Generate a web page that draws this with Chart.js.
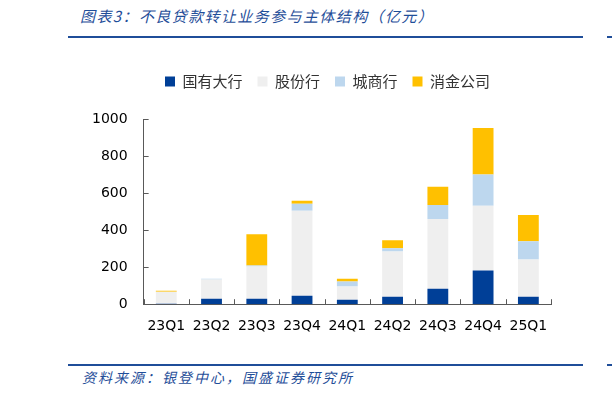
<!DOCTYPE html>
<html>
<head>
<meta charset="utf-8">
<script src="https://cdn.jsdelivr.net/npm/chart.js@4.4.1/dist/chart.umd.min.js"></script>
<style>
  body { margin: 0; width: 612px; height: 397px; background: #fff; position: relative; overflow: hidden; font-family: "Noto Sans CJK SC", sans-serif; }
  .title { position: absolute; left: 80px; top: 5px; font-size: 15px; letter-spacing: 1.4px; font-style: italic; color: #1f4e99; }
  .rule { position: absolute; height: 2px; background: #1f4e99; }
  .note { position: absolute; left: 82px; top: 367px; font-size: 14px; letter-spacing: 2px; font-style: italic; color: #1f4e99; }
  #wrap { position: absolute; left: 0; top: 45px; width: 612px; height: 314px; }
</style>
</head>
<body>
<div class="title">图表3：不良贷款转让业务参与主体结构（亿元）</div>
<div class="rule" style="left:68px;top:36px;width:515px"></div>
<div class="rule" style="left:607px;top:36px;width:5px"></div>
<div id="wrap"><canvas id="npl"></canvas></div>
<div class="rule" style="left:68px;top:364px;width:515px"></div>
<div class="rule" style="left:607px;top:364px;width:5px"></div>
<div class="note">资料来源：银登中心，国盛证券研究所</div>
<script>
const quarters = ['23Q1', '23Q2', '23Q3', '23Q4', '24Q1', '24Q2', '24Q3', '24Q4', '25Q1'];
const bigBanks = [3, 29, 29, 45, 24, 40, 84, 182, 40];
const jointStock = [64, 104, 175, 459, 71, 245, 376, 349, 202];
const cityBanks = [0, 5, 5, 38, 27, 17, 76, 169, 98];
const consumerFin = [6, 0, 169, 16, 16, 43, 98, 251, 142];
const yTicks = [0, 200, 400, 600, 800, 1000];

const axisColor = '#595959';

// excel style tick marks pointing into the plot
const innerTicks = {
  id: 'innerTicks',
  afterDatasetsDraw(chart) {
    const { ctx, scales: { x, y } } = chart;
    ctx.save();
    ctx.strokeStyle = axisColor;
    ctx.lineWidth = 1;
    ctx.beginPath();
    yTicks.forEach(v => {
      const py = Math.round(y.getPixelForValue(v)) + 0.5;
      ctx.moveTo(x.left, py);
      ctx.lineTo(x.left + 5, py);
    });
    for (let i = 0; i <= quarters.length; i++) {
      let px;
      if (i === 0) px = x.left;
      else if (i === quarters.length) px = x.right;
      else px = (x.getPixelForValue(i - 1) + x.getPixelForValue(i)) / 2;
      px = Math.round(px) + 0.5;
      ctx.moveTo(px, y.bottom);
      ctx.lineTo(px, y.bottom - 5);
    }
    ctx.stroke();
    ctx.restore();
  }
};

// more room under the legend, and nudge it right like the original
const legendGap = {
  id: 'legendGap',
  beforeInit(chart) {
    const lg = chart.legend;
    const fit = lg.fit;
    lg.fit = function () {
      fit.bind(lg)();
      this.height += 20;
    };
    const draw = lg.draw;
    lg.draw = function () {
      lg.ctx.save();
      lg.ctx.translate(14, 0);
      draw.bind(lg)();
      lg.ctx.restore();
    };
  }
};

const chart = new Chart(document.getElementById('npl'), {
  type: 'bar',
  data: {
    labels: quarters,
    datasets: [
      { label: '国有大行', data: bigBanks, backgroundColor: '#003f97' },
      { label: '股份行', data: jointStock, backgroundColor: '#efefef' },
      { label: '城商行', data: cityBanks, backgroundColor: '#bdd7ee' },
      { label: '消金公司', data: consumerFin, backgroundColor: '#ffc000' }
    ]
  },
  options: {
    responsive: true,
    maintainAspectRatio: false,
    animation: false,
    layout: { padding: { top: 14, left: 76, right: 61, bottom: 10 } },
    datasets: { bar: { categoryPercentage: 1, barPercentage: 0.46 } },
    plugins: {
      legend: {
        labels: {
          boxWidth: 10,
          boxHeight: 10,
          padding: 15,
          color: '#333',
          font: { family: 'Noto Sans CJK SC', size: 15 }
        }
      },
      tooltip: { enabled: false }
    },
    scales: {
      x: {
        stacked: true,
        grid: { display: false, drawTicks: false },
        border: { color: axisColor, width: 1 },
        ticks: {
          color: '#000',
          padding: 14,
          maxRotation: 0,
          autoSkip: false,
          font: { family: 'DejaVu Sans', size: 14 }
        }
      },
      y: {
        stacked: true,
        min: 0,
        max: 1000,
        grid: { display: false, drawTicks: false },
        border: { color: axisColor, width: 1 },
        ticks: {
          stepSize: 200,
          color: '#000',
          padding: 16,
          font: { family: 'DejaVu Sans', size: 14 },
          callback: v => String(v)
        }
      }
    }
  },
  plugins: [innerTicks, legendGap]
});
</script>
</body>
</html>
